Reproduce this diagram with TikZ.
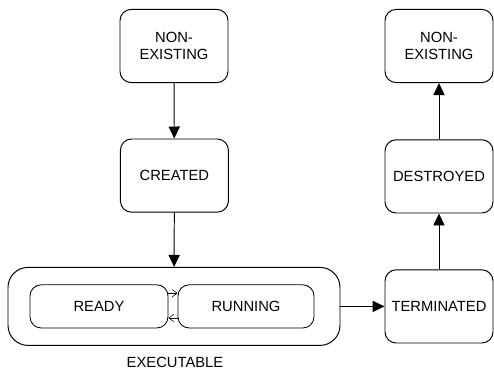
\documentclass[tikz,border=0pt]{standalone}
\usepackage{fontspec}
\setmainfont{Liberation Sans}
\usetikzlibrary{arrows.meta}

\begin{document}
\begin{tikzpicture}[
    state/.style={rectangle, draw, rounded corners=0.28cm, minimum width=2.7cm, minimum height=1.83cm, align=center, font=\fontsize{10.5}{12.5}\selectfont, line width=0.7pt},
    inner/.style={rectangle, draw, rounded corners=0.28cm, minimum height=1.08cm, font=\fontsize{10.5}{12.5}\selectfont, line width=0.6pt},
    arrow/.style={-{Triangle[length=3mm,width=2.8mm]}, line width=0.7pt},
    small/.style={-{Straight Barb[length=1.2mm,width=1.8mm]}, line width=0.4pt}
]
    \useasboundingbox (0,0) rectangle (12.35,-9.325);
    % Left column, top to bottom
    \node[state] (nonex) at (4.35,-1.15) {NON-\\EXISTING};
    \node[state] (created) at (4.36,-4.39) {CREATED};
    \node[rectangle, draw, rounded corners=0.5cm, minimum width=8.3cm, minimum height=1.95cm, line width=0.7pt] (exec) at (4.35,-7.66) {};
    \node[inner, minimum width=3.45cm] (ready) at (2.475,-7.66) {READY};
    \node[inner, minimum width=3.4cm] (running) at (6.15,-7.66) {RUNNING};
    \node[font=\fontsize{10.5}{12.5}\selectfont] (execlabel) at (4.375,-9.05) {EXECUTABLE};

    % Right column, bottom to top
    \node[state] (terminated) at (10.975,-7.66) {TERMINATED};
    \node[state] (destroyed) at (10.975,-4.41) {DESTROYED};
    \node[state] (nonexend) at (10.975,-1.15) {NON-\\EXISTING};

    % Arrows
    \draw[arrow] (nonex) -- (created);
    \draw[arrow] (created) -- (exec);
    \draw[small] ([yshift=0.33cm]ready.east) -- ([yshift=0.33cm]running.west);
    \draw[small] ([yshift=-0.29cm]running.west) -- ([yshift=-0.29cm]ready.east);
    \draw[arrow] (exec) -- (terminated);
    \draw[arrow] (terminated) -- (destroyed);
    \draw[arrow] (destroyed) -- (nonexend);
\end{tikzpicture}
\end{document}
